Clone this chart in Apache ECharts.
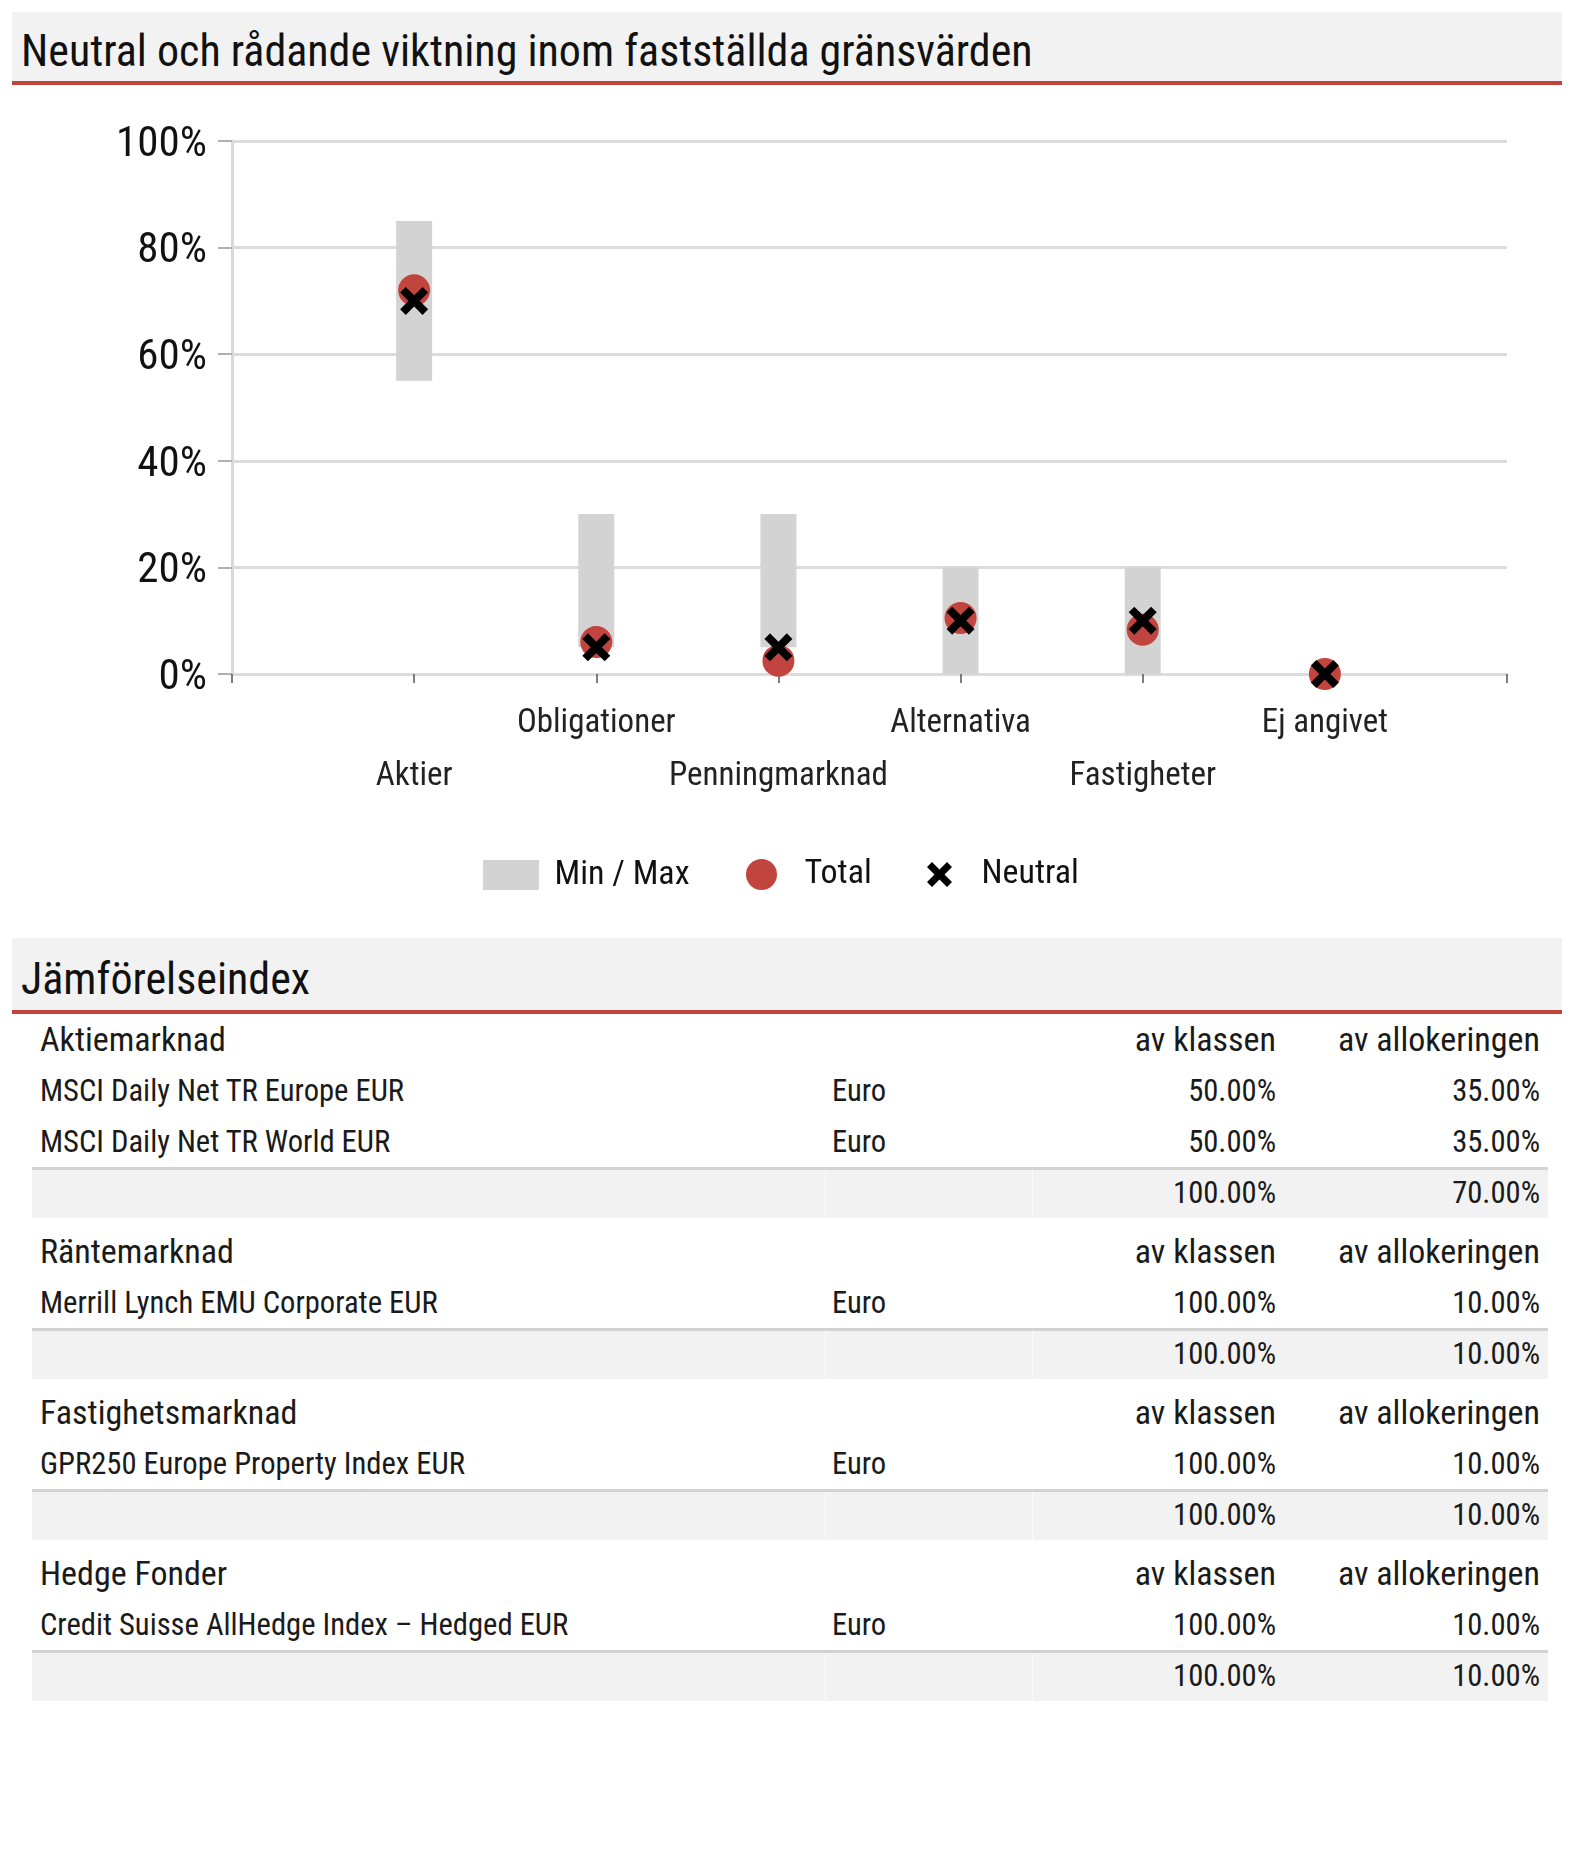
<!DOCTYPE html>
<html><head><meta charset="utf-8">
<script src="https://cdn.jsdelivr.net/npm/echarts@6/dist/echarts.min.js"></script>
<style>
html,body{margin:0;padding:0;background:#fff;width:1574px;height:1856px;overflow:hidden;font-family:'Roboto Condensed',sans-serif;color:#1a1a1a;}
.band{position:absolute;left:12px;width:1550px;background:#f2f2f2;border-bottom:4px solid #c0443e;box-sizing:border-box;}
.band span{position:absolute;left:9px;line-height:50px;font-size:44px;white-space:nowrap;color:#111;}
.row{position:absolute;left:32px;width:1516px;box-sizing:border-box;white-space:nowrap;}
.row span{position:absolute;}
.tot{background:#f2f2f2;border-top:3px solid #d2d2d2;}
.tot i{position:absolute;top:0;bottom:0;width:1px;background:#fbfbfb;}
#chart{position:absolute;left:0;top:0;width:1574px;height:930px;}
</style></head>
<body>
<div class="band" style="top:12px;height:73px"><span style="top:14px">Neutral och rådande viktning inom fastställda gränsvärden</span></div>
<div id="chart"></div>
<div class="band" style="top:938px;height:76px"><span style="top:16px">Jämförelseindex</span></div>
<div id="table"></div>
<script>
// ---- chart data ----
const categories = ['Aktier', 'Obligationer', 'Penningmarknad', 'Alternativa', 'Fastigheter', 'Ej angivet'];
const minValues = [55, 5, 5, 0, 0, 0];
const maxValues = [85, 30, 30, 20, 20, 0];
const totalValues = [72, 6, 2.5, 10.5, 8.3, 0];
const neutralValues = [70, 5, 5, 10, 10, 0];
const yTickValues = [0, 20, 40, 60, 80, 100];
const legendNames = ['Min / Max', 'Total', 'Neutral'];

// ---- table data ----
const groupNames = ['Aktiemarknad', 'Räntemarknad', 'Fastighetsmarknad', 'Hedge Fonder'];
const indexNames = [
  ['MSCI Daily Net TR Europe EUR', 'MSCI Daily Net TR World EUR'],
  ['Merrill Lynch EMU Corporate EUR'],
  ['GPR250 Europe Property Index EUR'],
  ['Credit Suisse AllHedge Index  – Hedged EUR']
];
const currencies = [['Euro', 'Euro'], ['Euro'], ['Euro'], ['Euro']];
const classShares = [[50, 50], [100], [100], [100]];
const allocShares = [[35, 35], [10], [10], [10]];
const classTotals = [100, 100, 100, 100];
const allocTotals = [70, 10, 10, 10];
const colHeaders = ['av klassen', 'av allokeringen'];

// ---- chart ----
const pad = arr => ['-'].concat(arr, ['-']);
const xPath = 'path://M0,2L2,0L5,3L8,0L10,2L7,5L10,8L8,10L5,7L2,10L0,8L3,5Z';
const font = 'Roboto Condensed';
const chart = echarts.init(document.getElementById('chart'), null, {renderer: 'canvas'});
const legendText = {fontFamily: font, fontSize: 34, color: '#111'};
chart.setOption({
  animation: false,
  grid: {left: 232, right: 67, top: 141, bottom: 256, containLabel: false, outerBoundsMode: 'none'},
  xAxis: {
    type: 'category', boundaryGap: false,
    data: [''].concat(categories, ['']),
    axisLine: {show: true, lineStyle: {color: '#dcdcdc', width: 3}},
    axisTick: {show: true, interval: 0, length: 9, lineStyle: {color: '#555', width: 1.5}},
    axisLabel: {interval: 0, fontFamily: font, fontSize: 33, color: '#222', lineHeight: 53, margin: 23.5,
      formatter: (v, i) => (i % 2 === 1 ? '\n' + v : v)},
    splitLine: {show: false}
  },
  yAxis: {
    type: 'value', min: yTickValues[0], max: yTickValues[yTickValues.length - 1],
    interval: yTickValues[1] - yTickValues[0],
    axisLine: {show: true, lineStyle: {color: '#d9d9d9', width: 3}},
    axisTick: {show: true, length: 14, lineStyle: {color: '#b0b0b0', width: 2}},
    axisLabel: {formatter: '{value}%', fontFamily: font, fontSize: 43, color: '#111', margin: 25,
      verticalAlign: 'top', lineHeight: 8},
    splitLine: {show: true, lineStyle: {color: '#dcdcdc', width: 3}}
  },
  legend: [
    {data: [legendNames[0]], left: 483, top: 858, padding: 0, itemWidth: 77, itemHeight: 30,
      icon: 'path://M0,0H56V30H0Z', symbolKeepAspect: true, selectedMode: false, textStyle: legendText},
    {data: [legendNames[1]], left: 746, top: 857.5, padding: 0, itemWidth: 76, itemHeight: 31,
      icon: 'circle', selectedMode: false, textStyle: legendText},
    {data: [legendNames[2]], left: 927, top: 857.5, padding: 0, itemWidth: 74, itemHeight: 25,
      icon: xPath, symbolKeepAspect: true, selectedMode: false, textStyle: legendText}
  ],
  series: [
    {name: 'base', type: 'bar', stack: 'mm', barWidth: 36, silent: true,
      itemStyle: {color: 'rgba(0,0,0,0)'}, data: pad(minValues)},
    {name: legendNames[0], type: 'bar', stack: 'mm', barWidth: 36, silent: true,
      itemStyle: {color: '#d3d3d3'}, data: pad(maxValues.map((v, i) => v - minValues[i]))},
    {name: legendNames[1], type: 'scatter', symbol: 'circle', symbolSize: 32, z: 3,
      itemStyle: {color: '#c1443e', opacity: 1}, data: pad(totalValues)},
    {name: legendNames[2], type: 'scatter', symbol: xPath, symbolSize: 28, z: 4,
      itemStyle: {color: '#000', opacity: 1}, data: pad(neutralValues)}
  ]
});

// ---- table ----
const fmt = v => v.toFixed(2) + '%';
const tbl = document.getElementById('table');
let y = 1013;
function addRow(cls, h, cells, pt, fs, lh) {
  const d = document.createElement('div');
  d.className = 'row ' + cls;
  d.style.top = y + 'px'; d.style.height = h + 'px';
  if (cls === 'tot') [793, 1000].forEach(x => { const i = document.createElement('i'); i.style.left = x + 'px'; d.appendChild(i); });
  cells.forEach(c => {
    const s = document.createElement('span');
    s.textContent = c.t;
    s.style.top = (pt || 0) + 'px';
    s.style.lineHeight = (lh || (h - (pt || 0))) + 'px';
    s.style.fontSize = fs + 'px';
    if (c.l !== undefined) s.style.left = c.l + 'px'; else s.style.right = c.r + 'px';
    d.appendChild(s);
  });
  tbl.appendChild(d);
  y += h;
}
groupNames.forEach((g, gi) => {
  const hh = gi === 0 ? 52 : 59;
  addRow('', hh, [{t: g, l: 8}, {t: colHeaders[0], r: 272}, {t: colHeaders[1], r: 8}], gi === 0 ? 0 : 7, 34);
  indexNames[gi].forEach((n, ri) => {
    addRow('', 51, [{t: n, l: 8}, {t: currencies[gi][ri], l: 800}, {t: fmt(classShares[gi][ri]), r: 272}, {t: fmt(allocShares[gi][ri]), r: 8}], 0, 30.6);
  });
  addRow('tot', 51, [{t: fmt(classTotals[gi]), r: 272}, {t: fmt(allocTotals[gi]), r: 8}], 0, 30.6, 45);
});
</script>
</body></html>
